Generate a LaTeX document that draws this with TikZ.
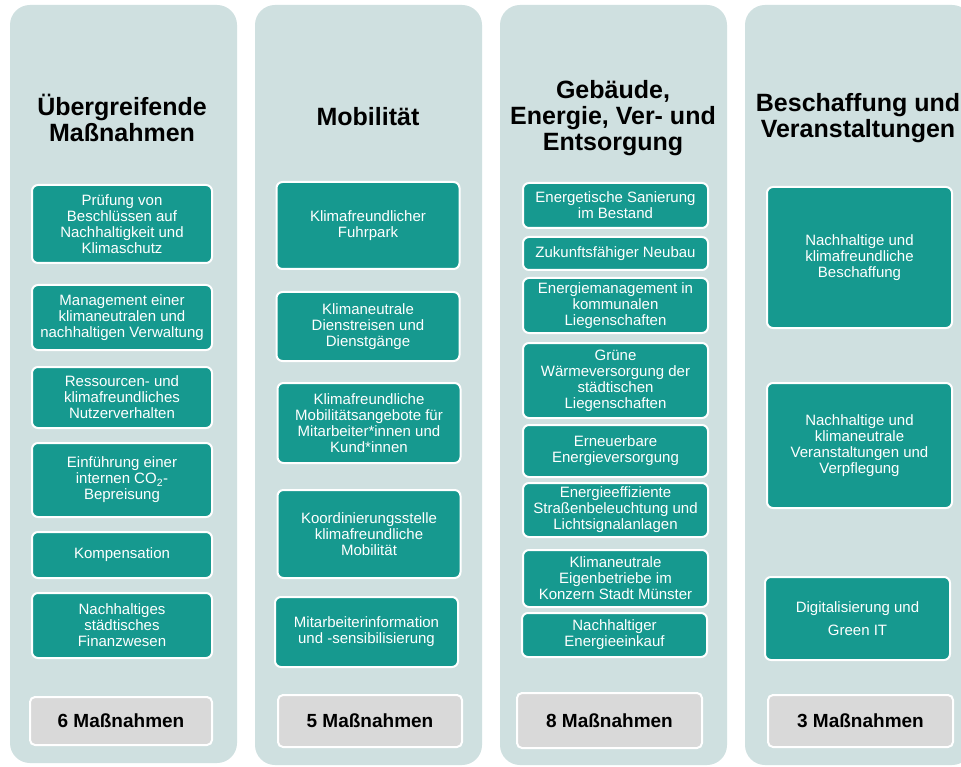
\documentclass[tikz,border=0pt]{standalone}
\usepackage{fontspec}
\setmainfont{Liberation Sans}
\usetikzlibrary{positioning}
\definecolor{kmPanel}{HTML}{CFE0E0}
\definecolor{kmTeal}{HTML}{16998F}
\definecolor{kmGrey}{HTML}{D9D9D9}
\tikzset{
  panel/.style={fill=kmPanel, draw=none, rounded corners=20pt},
  coltitle/.style={font=\fontsize{25}{26}\selectfont\bfseries, align=center, text=black},
  measure/.style={
    draw=white, line width=2pt, fill=kmTeal, rounded corners=6pt,
    text=white, font=\fontsize{15}{16}\selectfont, align=center, inner sep=2pt
  },
  countbox/.style={
    draw=white, line width=2pt, fill=kmGrey, rounded corners=5pt,
    font=\fontsize{19}{20}\selectfont\bfseries, align=center, inner sep=2pt
  }
}

\begin{document}
\begin{tikzpicture}[x=1pt, y=-1pt]
  \clip (0,0) rectangle (961,767);
  \fill[white] (0,0) rectangle (961,767);
  % column panels
  \fill[panel] (10,5) rectangle (237,763);
  \fill[panel] (255,5) rectangle (482,765);
  \fill[panel] (500,5) rectangle (727,765);
  \fill[panel] (745,5) rectangle (972,765);

  % Übergreifende Maßnahmen
  \node[coltitle] (t1) at (122,118) {Übergreifende\\Maßnahmen};
  \node[measure, minimum width=180pt, minimum height=78pt] (u1) at (122,224) {Prüfung von\\Beschlüssen auf\\Nachhaltigkeit und\\Klimaschutz};
  \node[measure, minimum width=180pt, minimum height=65pt] (u2) at (122,317.5) {Management einer\\klimaneutralen und\\nachhaltigen Verwaltung};
  \node[measure, minimum width=180pt, minimum height=61pt] (u3) at (122,397.5) {Ressourcen- und\\klimafreundliches\\Nutzerverhalten};
  \node[measure, minimum width=180pt, minimum height=74pt] (u4) at (122,480) {Einführung einer\\internen CO\textsubscript{2}-\\Bepreisung};
  \node[measure, minimum width=180pt, minimum height=46pt] (u5) at (122,555) {Kompensation};
  \node[measure, minimum width=180pt, minimum height=65pt] (u6) at (122,625.5) {Nachhaltiges\\städtisches\\Finanzwesen};
  \node[countbox, minimum width=182pt, minimum height=48pt] (n1) at (121,721) {6 Maßnahmen};

  % Mobilität
  \node[coltitle] (t2) at (368,117) {Mobilität};
  \node[measure, minimum width=183pt, minimum height=87pt] (m1) at (368,225.5) {Klimafreundlicher\\Fuhrpark};
  \node[measure, minimum width=183pt, minimum height=69pt] (m2) at (368,326.5) {Klimaneutrale\\Dienstreisen und\\Dienstgänge};
  \node[measure, minimum width=183pt, minimum height=80pt] (m3) at (369,423) {Klimafreundliche\\Mobilitätsangebote für\\Mitarbeiter*innen und\\Kund*innen};
  \node[measure, minimum width=183pt, minimum height=88pt] (m4) at (369,534) {Koordinierungsstelle\\klimafreundliche\\Mobilität};
  \node[measure, minimum width=183pt, minimum height=70pt] (m5) at (366.5,632) {Mitarbeiterinformation\\und -sensibilisierung};
  \node[countbox, minimum width=184pt, minimum height=52pt] (n2) at (370,721) {5 Maßnahmen};

  % Gebäude, Energie, Ver- und Entsorgung
  \node[coltitle] (t3) at (613,118) {Gebäude,\\Energie, Ver- und\\Entsorgung};
  \node[measure, minimum width=185pt, minimum height=45pt] (g1) at (615.5,205.5) {Energetische Sanierung\\im Bestand};
  \node[measure, minimum width=185pt, minimum height=33pt] (g2) at (615.5,253.5) {Zukunftsfähiger Neubau};
  \node[measure, minimum width=185pt, minimum height=55pt] (g3) at (615.5,305.5) {Energiemanagement in\\kommunalen\\Liegenschaften};
  \node[measure, minimum width=185pt, minimum height=75pt] (g4) at (615.5,380.5) {Grüne\\Wärmeversorgung der\\städtischen\\Liegenschaften};
  \node[measure, minimum width=185pt, minimum height=52pt] (g5) at (615.5,451) {Erneuerbare\\Energieversorgung};
  \node[measure, minimum width=185pt, minimum height=54pt] (g6) at (615.5,510) {Energieeffiziente\\Straßenbeleuchtung und\\Lichtsignalanlagen};
  \node[measure, minimum width=185pt, minimum height=57pt] (g7) at (615.5,578.5) {Klimaneutrale\\Eigenbetriebe im\\Konzern Stadt Münster};
  \node[measure, minimum width=185pt, minimum height=44pt] (g8) at (614.5,635) {Nachhaltiger\\Energieeinkauf};
  \node[countbox, minimum width=185pt, minimum height=55pt] (n3) at (609.5,720.5) {8 Maßnahmen};

  % Beschaffung und Veranstaltungen
  \node[coltitle] (t4) at (858,118) {Beschaffung und\\Veranstaltungen};
  \node[measure, minimum width=185pt, minimum height=141pt] (b1) at (859.5,257.5) {Nachhaltige und\\klimafreundliche\\Beschaffung};
  \node[measure, minimum width=185pt, minimum height=125pt] (b2) at (859.5,445.5) {Nachhaltige und\\klimaneutrale\\Veranstaltungen und\\Verpflegung};
  \node[measure, minimum width=185pt, minimum height=83pt, font=\fontsize{15}{23}\selectfont] (b3) at (857.5,618.5) {Digitalisierung und\\Green IT};
  \node[countbox, minimum width=185pt, minimum height=52pt] (n4) at (860.5,721) {3 Maßnahmen};
\end{tikzpicture}
\end{document}
